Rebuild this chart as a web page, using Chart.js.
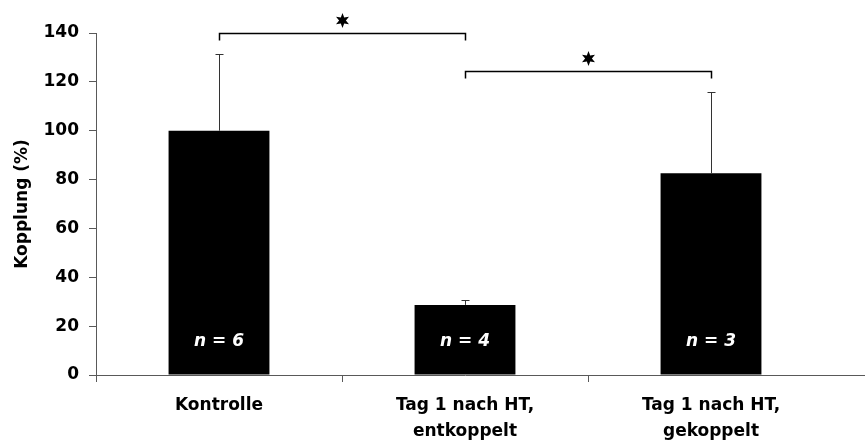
<!DOCTYPE html>
<html>
<head>
<meta charset="utf-8">
<script src="https://cdn.jsdelivr.net/npm/chart.js@4"></script>
<style>
  body { margin: 0; background: #fff; }
</style>
</head>
<body>
<canvas id="chart" width="865" height="444"></canvas>
<script>
const categories = [["Kontrolle"], ["Tag 1 nach HT,", "entkoppelt"], ["Tag 1 nach HT,", "gekoppelt"]];
const values = [100, 28.7, 82.6];
const errors = [31.3, 2.0, 33.1];
const nLabels = ["n = 6", "n = 4", "n = 3"];
const nLabelLevel = 13.5;
const bracketFrom = [0, 1];
const bracketTo = [1, 2];
const bracketLevel = [140.2, 124.6];
const yTicks = [0, 20, 40, 60, 80, 100, 120, 140];

const FONT = "'DejaVu Sans', sans-serif";
const AXIS = "#595959";

function star(ctx, x, y, r) {
  ctx.beginPath();
  for (let k = 0; k < 12; k++) {
    const a = -Math.PI / 2 + k * Math.PI / 6;
    const rr = k % 2 ? r * 0.45 : r;
    ctx.lineTo(x + rr * Math.cos(a), y + rr * Math.sin(a));
  }
  ctx.closePath();
  ctx.fill();
}

// error bars, n labels, significance brackets
const annotations = {
  id: "annotations",
  afterDatasetsDraw(chart) {
    const ctx = chart.ctx;
    const y = chart.scales.y;
    const bars = chart.getDatasetMeta(0).data;
    const cx = (i) => Math.round(bars[i].x) + 0.5;
    ctx.save();

    ctx.strokeStyle = "#333";
    ctx.lineWidth = 1;
    values.forEach((v, i) => {
      const top = Math.round(y.getPixelForValue(v + errors[i])) + 0.5;
      ctx.beginPath();
      ctx.moveTo(cx(i), y.getPixelForValue(v));
      ctx.lineTo(cx(i), top);
      ctx.moveTo(cx(i) - 4, top);
      ctx.lineTo(cx(i) + 4, top);
      ctx.stroke();
    });

    ctx.fillStyle = "#fff";
    ctx.font = "italic bold 17px " + FONT;
    ctx.textAlign = "center";
    ctx.textBaseline = "middle";
    nLabels.forEach((t, i) => ctx.fillText(t, bars[i].x, y.getPixelForValue(nLabelLevel)));

    ctx.strokeStyle = "#000";
    ctx.lineWidth = 1.5;
    ctx.fillStyle = "#000";
    bracketLevel.forEach((lvl, k) => {
      const x1 = cx(bracketFrom[k]), x2 = cx(bracketTo[k]);
      const by = Math.round(y.getPixelForValue(lvl)) + 0.5;
      ctx.beginPath();
      ctx.moveTo(x1, by + 7);
      ctx.lineTo(x1, by);
      ctx.lineTo(x2, by);
      ctx.lineTo(x2, by + 7);
      ctx.stroke();
      star(ctx, (x1 + x2) / 2, by - 13, 7.5);
    });

    // x axis line runs on to the right edge
    const a = chart.chartArea;
    ctx.strokeStyle = AXIS;
    ctx.lineWidth = 1;
    ctx.beginPath();
    ctx.moveTo(a.right, Math.round(a.bottom) + 0.5);
    ctx.lineTo(chart.width, Math.round(a.bottom) + 0.5);
    ctx.stroke();
    ctx.restore();
  }
};

new Chart(document.getElementById("chart"), {
  type: "bar",
  data: {
    labels: categories,
    datasets: [{
      data: values,
      backgroundColor: "#000",
      barPercentage: 0.41,
      categoryPercentage: 1
    }]
  },
  options: {
    responsive: false,
    animation: false,
    devicePixelRatio: 1,
    layout: { padding: { top: 33, right: 31, left: 0, bottom: 0 } },
    plugins: { legend: { display: false }, tooltip: { enabled: false } },
    scales: {
      x: {
        grid: {
          drawOnChartArea: false,
          tickLength: 7,
          offset: true,
          color: (c) => (c.tick ? AXIS : "rgba(0,0,0,0)")
        },
        border: { color: AXIS },
        ticks: { color: "#000", padding: 11, maxRotation: 0, font: { family: FONT, size: 17, weight: "bold", lineHeight: 1.53 } },
        afterFit(s) { s.height = 69; }
      },
      y: {
        min: 0,
        max: 140,
        afterBuildTicks(s) { s.ticks = yTicks.map((v) => ({ value: v })); },
        grid: { drawOnChartArea: false, tickLength: 7, color: AXIS },
        border: { color: AXIS },
        ticks: { color: "#000", padding: 10, font: { family: FONT, size: 17, weight: "bold" } },
        title: {
          display: true,
          text: "Kopplung (%)",
          color: "#000",
          padding: { top: 12, bottom: 0 },
          font: { family: FONT, size: 17, weight: "bold" }
        },
        afterFit(s) { s.width = 96; }
      }
    }
  },
  plugins: [annotations]
});
</script>
</body>
</html>
